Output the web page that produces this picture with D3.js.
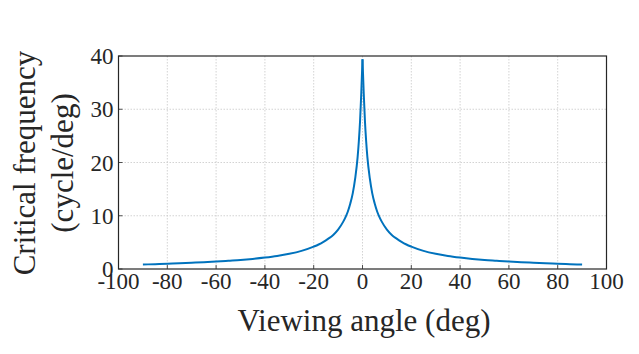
<!DOCTYPE html>
<html lang="en">
<head>
  <meta charset="UTF-8">
  <title>Critical frequency vs viewing angle</title>
  <script src="https://d3js.org/d3.v7.min.js"></script>
  <style>
    body { margin: 0; background: #fff; }
    svg { display: block; font-family: "Liberation Serif", "Times New Roman", serif; }
    .grid line { stroke: #c8c8c8; stroke-width: 0.8; stroke-dasharray: 1.5 1.5; }
    .tick-label { font-size: 23px; fill: #262626; }
    .axis-title { font-size: 31px; fill: #262626; }
  </style>
</head>
<body>
<div id="chart"></div>
<script>
  // viewing angle (deg) and critical frequency (cycle/deg)
  const angles = [-90, -85, -80, -75, -70, -65, -60, -55, -50, -45, -40, -35, -30, -25, -20,
    -18, -16, -14, -12, -10, -8, -7, -6, -5, -4, -3, -2, -1.5, -1, -0.5, 0,
    0.5, 1, 1.5, 2, 3, 4, 5, 6, 7, 8, 10, 12, 14, 16, 18,
    20, 25, 30, 35, 40, 45, 50, 55, 60, 65, 70, 75, 80, 85, 90];
  const freqs = [0.84, 0.91, 0.99, 1.07, 1.17, 1.28, 1.4, 1.55, 1.7, 1.9, 2.15, 2.45, 2.85, 3.4, 4.2,
    4.6, 5.1, 5.7, 6.4, 7.4, 8.8, 9.7, 10.8, 12.3, 14.2, 17.0, 21.0, 24.0, 27.8, 33.0, 39.4,
    33.0, 27.8, 24.0, 21.0, 17.0, 14.2, 12.3, 10.8, 9.7, 8.8, 7.4, 6.4, 5.7, 5.1, 4.6,
    4.2, 3.4, 2.85, 2.45, 2.15, 1.9, 1.7, 1.55, 1.4, 1.28, 1.17, 1.07, 0.99, 0.91, 0.84];

  const xTicks = [-100, -80, -60, -40, -20, 0, 20, 40, 60, 80, 100];
  const yTicks = [0, 10, 20, 30, 40];

  const width = 639, height = 354;
  const margin = { left: 118.5, top: 56, right: 32.5, bottom: 85 };
  const plotW = width - margin.left - margin.right;
  const plotH = height - margin.top - margin.bottom;

  const svg = d3.select("#chart").append("svg")
    .attr("width", width)
    .attr("height", height);

  const g = svg.append("g").attr("transform", `translate(${margin.left},${margin.top})`);

  const x = d3.scaleLinear().domain([-100, 100]).range([0, plotW]);
  const y = d3.scaleLinear().domain([0, 40]).range([plotH, 0]);

  // grid lines (dotted)
  const grid = g.append("g").attr("class", "grid");
  grid.selectAll(".vx")
    .data(xTicks.filter(d => d > -100 && d < 100))
    .enter().append("line")
    .attr("x1", d => x(d)).attr("x2", d => x(d))
    .attr("y1", 0).attr("y2", plotH);
  grid.selectAll(".hy")
    .data(yTicks.filter(d => d > 0 && d < 40))
    .enter().append("line")
    .attr("x1", 0).attr("x2", plotW)
    .attr("y1", d => y(d)).attr("y2", d => y(d));

  // curve: two halves so the peak stays sharp
  const pts = angles.map((a, i) => ({ a: a, f: freqs[i] }));
  const line = d3.line()
    .x(d => x(d.a))
    .y(d => y(d.f))
    .curve(d3.curveMonotoneX);

  [pts.filter(d => d.a <= 0), pts.filter(d => d.a >= 0)].forEach(half => {
    g.append("path")
      .datum(half)
      .attr("fill", "none")
      .attr("stroke", "#0072BD")
      .attr("stroke-width", 2)
      .attr("stroke-linejoin", "round")
      .attr("d", line);
  });

  // inward ticks
  const tickLen = 4;
  g.selectAll(".xt").data(xTicks).enter().append("line")
    .attr("x1", d => x(d)).attr("x2", d => x(d))
    .attr("y1", plotH).attr("y2", plotH - tickLen)
    .attr("stroke", "#262626").attr("stroke-width", 0.8);
  g.selectAll(".yt").data(yTicks).enter().append("line")
    .attr("x1", 0).attr("x2", tickLen)
    .attr("y1", d => y(d)).attr("y2", d => y(d))
    .attr("stroke", "#262626").attr("stroke-width", 0.8);

  // box
  g.append("rect")
    .attr("x", 0).attr("y", 0)
    .attr("width", plotW).attr("height", plotH)
    .attr("fill", "none")
    .attr("stroke", "#262626")
    .attr("stroke-width", 1.2);

  // tick labels
  g.selectAll(".xl").data(xTicks).enter().append("text")
    .attr("class", "tick-label")
    .attr("x", d => x(d))
    .attr("y", plotH + 20)
    .attr("text-anchor", "middle")
    .text(d => d);

  g.selectAll(".yl").data(yTicks).enter().append("text")
    .attr("class", "tick-label")
    .attr("x", -5)
    .attr("y", d => y(d))
    .attr("dy", "0.35em")
    .attr("text-anchor", "end")
    .text(d => d);

  // axis titles
  svg.append("text")
    .attr("class", "axis-title")
    .attr("x", 364)
    .attr("y", 331)
    .attr("text-anchor", "middle")
    .text("Viewing angle (deg)");

  const yTitle = svg.append("text")
    .attr("class", "axis-title")
    .attr("transform", "translate(35,163) rotate(-90)")
    .attr("text-anchor", "middle");
  yTitle.append("tspan").attr("x", 0).attr("y", 0).text("Critical frequency");
  yTitle.append("tspan").attr("x", 0).attr("y", 38).text("(cycle/deg)");
</script>
</body>
</html>
